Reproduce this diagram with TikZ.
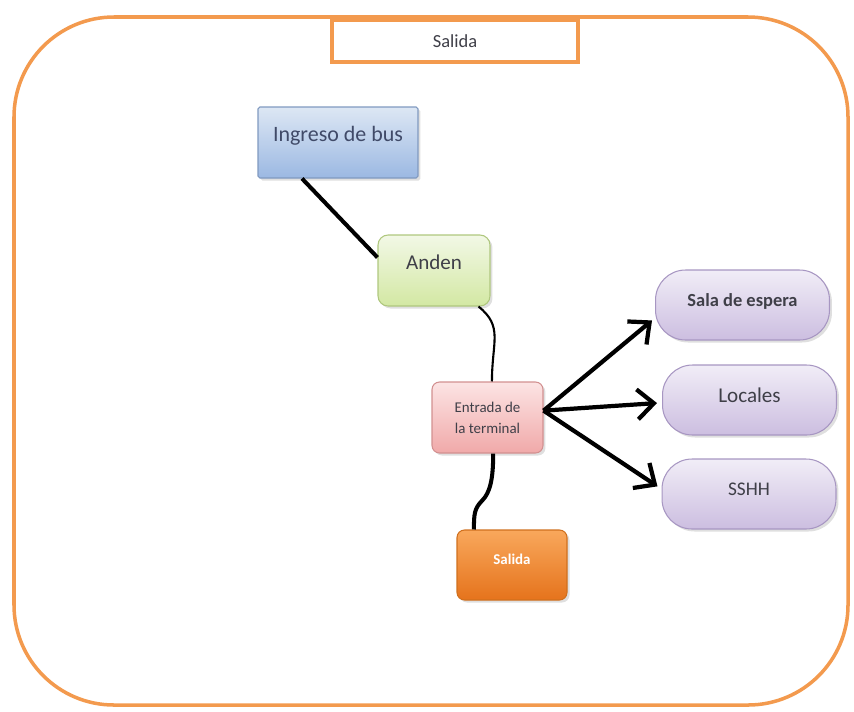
\documentclass[tikz,border=0pt]{standalone}
\usepackage{fontspec}
\setmainfont{Carlito}
\usetikzlibrary{calc}
\usetikzlibrary{arrows.meta}
\usetikzlibrary{shadows}
\definecolor{frameorange}{HTML}{F39A4E}
\definecolor{bustop}{HTML}{DDE7F4}
\definecolor{busbot}{HTML}{9BB8E2}
\definecolor{busline}{HTML}{8099C0}
\definecolor{bustext}{HTML}{404A68}
\definecolor{andtop}{HTML}{F2F8E6}
\definecolor{andbot}{HTML}{D3E8A3}
\definecolor{andline}{HTML}{AFC77E}
\definecolor{enttop}{HTML}{FCE4E4}
\definecolor{entbot}{HTML}{F0A9A9}
\definecolor{entline}{HTML}{D29090}
\definecolor{saltop}{HTML}{F9A85C}
\definecolor{salbot}{HTML}{E5731C}
\definecolor{salline}{HTML}{D0701E}
\definecolor{lavtop}{HTML}{F1EDF7}
\definecolor{lavbot}{HTML}{CCBEE0}
\definecolor{lavline}{HTML}{A796C2}
\definecolor{textgray}{HTML}{3F3F48}

\begin{document}
\begin{tikzpicture}[x=0.02cm,y=-0.02cm,thick,
    box/.style={draw,line width=0.6pt,align=center,text=textgray,
        drop shadow={opacity=0.25,shadow xshift=0.05cm,shadow yshift=-0.05cm}},
    busbox/.style={box,top color=bustop,bottom color=busbot,draw=busline,
        rounded corners=1pt,minimum width=3.2cm,minimum height=1.42cm,
        font=\fontsize{12.5}{14}\selectfont,text=bustext,text depth=0.35cm},
    andbox/.style={box,top color=andtop,bottom color=andbot,draw=andline,
        rounded corners=0.2cm,minimum width=2.24cm,minimum height=1.42cm,
        font=\fontsize{12}{14}\selectfont,text depth=0.32cm},
    entbox/.style={box,top color=enttop,bottom color=entbot,draw=entline,
        rounded corners=0.15cm,minimum width=2.22cm,minimum height=1.42cm,
        font=\fontsize{8.5}{12}\selectfont},
    salbox/.style={box,top color=saltop,bottom color=salbot,draw=salline,
        rounded corners=0.15cm,minimum width=2.2cm,minimum height=1.4cm,
        font=\fontsize{8.5}{10}\selectfont\bfseries,text=white,text depth=0.25cm},
    lavbox/.style={box,top color=lavtop,bottom color=lavbot,draw=lavline,
        rounded corners=0.6cm,minimum width=3.48cm,minimum height=1.4cm,
        font=\fontsize{12}{14}\selectfont,text depth=0.2cm},
    link/.style={line width=2.3pt},
    arr/.style={line width=2.4pt,-{Straight Barb[length=3.3mm,width=6mm,line width=2.4pt]}}]
    \useasboundingbox (0,0) rectangle (854,711);
    \draw[frameorange,line width=2pt,rounded corners=2cm] (14,17) rectangle (848,705);
    \node[draw=frameorange,fill=white,line width=1.8pt,minimum width=4.92cm,
        minimum height=0.84cm,text=textgray,font=\fontsize{10.5}{12}\selectfont] (titulo) at (455,41) {Salida};
    \node[busbox] (ingreso) at (338,142.5) {Ingreso de bus};
    \node[andbox] (anden) at (434,270.5) {Anden};
    \node[entbox] (entrada) at (487.5,417.5) {Entrada de\\la terminal};
    \node[salbox] (salida) at (512,565) {Salida};
    \node[lavbox,font=\fontsize{10.5}{12}\selectfont\bfseries] (sala) at (742.5,305) {Sala de espera};
    \node[lavbox] (locales) at (749.5,400) {Locales};
    \node[lavbox,font=\fontsize{11}{13}\selectfont] (sshh) at (749,494) {SSHH};
    \draw[link] (ingreso.225) -- (anden.167);
    \draw[line width=1.2pt] (anden.-39) .. controls +(25,20) and +(0,-40) .. (entrada.83);
    \draw[link] (entrada.-81) .. controls +(0,25) and +(8,-8) .. +(-11,47)
        .. controls +(-8,8) and +(0,-15) .. (salida.137);
    \draw[arr] (entrada.7) -- ($(sala.190)+(-3,0)$);
    \draw[arr] (entrada.7) -- ($(locales.182)+(-5,0)$);
    \draw[arr] (entrada.7) -- ($(sshh.175)+(-4,0)$);
\end{tikzpicture}
\end{document}
